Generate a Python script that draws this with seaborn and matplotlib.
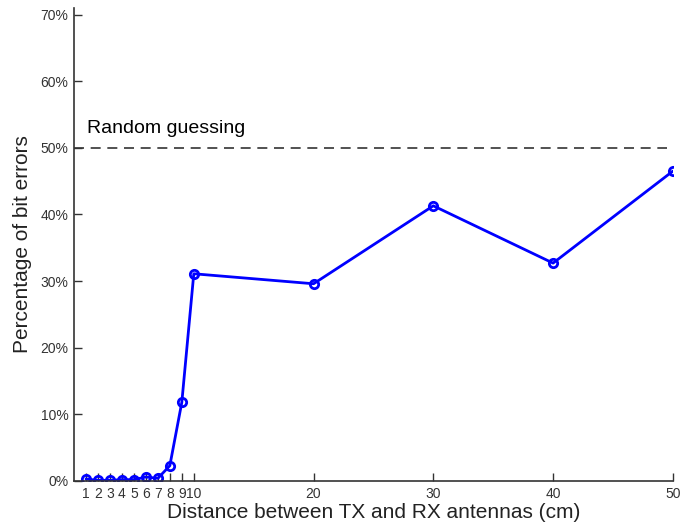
import numpy as np
import pandas as pd
import matplotlib
matplotlib.use('Agg')
import matplotlib.pyplot as plt
import seaborn as sns
from matplotlib.ticker import PercentFormatter

distance_cm = [1, 2, 3, 4, 5, 6, 7, 8, 9, 10, 20, 30, 40, 50]
bit_error_pct = [0.3, 0.1, 0.1, 0.2, 0.2, 0.6, 0.4, 2.3, 11.8, 31.1, 29.6, 41.3, 32.7, 46.5]
xtick_vals = [1, 2, 3, 4, 5, 6, 7, 8, 9, 10, 20, 30, 40, 50]
ytick_vals = [0, 10, 20, 30, 40, 50, 60, 70]
random_guess = 50

sns.set_style("white")
plt.rcParams['font.family'] = ['Liberation Sans', 'DejaVu Sans']

df = pd.DataFrame({'dist': distance_cm, 'err': bit_error_pct})

fig = plt.figure(figsize=(6.81, 5.27), dpi=100)
ax = fig.add_axes([0.1087, 0.0873, 0.8793, 0.8977])

sns.lineplot(data=df, x='dist', y='err', ax=ax, color='#0000ff', linewidth=2,
             marker='o', markersize=6, markerfacecolor='none',
             markeredgecolor='#0000ff', markeredgewidth=2)

ax.axhline(random_guess, xmin=0, xmax=0.99, color='#333333', linestyle=(0, (6, 4)), linewidth=1.2)
ax.text(1.1, random_guess + 1.6, 'Random guessing', fontsize=14, color='black', va='bottom')

ax.set_xlim(0, 50)
ax.set_ylim(0, 71)
ax.set_xticks(xtick_vals)
ax.set_yticks(ytick_vals)
ax.yaxis.set_major_formatter(PercentFormatter(decimals=0))
ax.tick_params(bottom=True, left=True, direction='in', length=6, width=1,
               colors='#333333', labelsize=10, pad=4)
for lbl in ax.get_xticklabels() + ax.get_yticklabels():
    lbl.set_color('#333333')

ax.set_xlabel('Distance between TX and RX antennas (cm)', fontsize=15, color='#222222', labelpad=2)
ax.set_ylabel('Percentage of bit errors', fontsize=15, color='#222222', labelpad=6)

for s in ['top', 'right']:
    ax.spines[s].set_visible(False)
for s in ['left', 'bottom']:
    ax.spines[s].set_color('#333333')
    ax.spines[s].set_linewidth(1.2)

fig.savefig('out.png', dpi=100)
